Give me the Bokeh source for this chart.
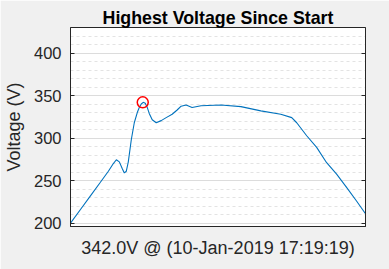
from bokeh.plotting import figure
from bokeh.models import FixedTicker, LinearAxis, Range1d
from bokeh.embed import file_html
from bokeh.resources import INLINE

# sample index (arbitrary time units) and voltage readings
sample = [0, 10, 20, 30, 38, 43, 46, 49, 52, 54, 56, 58, 61, 64, 67, 69, 71, 73,
          75, 77, 79, 82, 86, 91, 96, 102, 107, 111, 116, 122, 131, 151, 171, 191,
          211, 222, 227, 237, 247, 257, 267, 277, 287, 296]
voltage = [200, 216, 232, 248, 261, 270, 274.5, 272, 264, 259, 261, 272, 298, 318,
           330, 336, 340, 342, 341, 336, 329, 321.5, 318, 320.5, 324, 328, 333, 337.5,
           338.8, 336, 338, 338.8, 337, 332, 328, 324, 318, 302.7, 289, 271, 257.6,
           242, 226, 211]
peak_x = [72.5]
peak_v = [342.0]
y_ticks = [200, 250, 300, 350, 400]
y_minor = list(range(200, 431, 10))

title = "Highest Voltage Since Start"
xlabel = "342.0V @ (10-Jan-2019 17:19:19)"
ylabel = "Voltage (V)"

FONT = "Liberation Sans"
DARK = "#262626"

p = figure(width=389, height=269, output_backend="svg", toolbar_location=None,
           x_range=Range1d(0, 296), y_range=Range1d(196, 430),
           min_border_left=69, min_border_right=24, min_border_top=27,
           min_border_bottom=43, title=title)
p.background_fill_color = "white"
p.border_fill_color = "#f0f0f0"
p.outline_line_color = DARK
p.outline_line_width = 1

p.title.align = "center"
p.title.text_font = FONT
p.title.text_font_size = "17.8px"
p.title.text_font_style = "bold"
p.title.text_color = "black"
p.title.standoff = 0

ticker = FixedTicker(ticks=y_ticks, minor_ticks=y_minor)
yax = p.yaxis[0]
yax.ticker = ticker
yax.major_tick_in = 4
yax.major_tick_out = 0
yax.minor_tick_in = 0
yax.minor_tick_out = 0
yax.major_label_standoff = 9
yax.major_label_text_font = FONT
yax.major_label_text_font_size = "16.5px"
yax.major_label_text_color = DARK
yax.axis_line_color = DARK
yax.major_tick_line_color = DARK
yax.axis_label = ylabel
yax.axis_label_text_font = FONT
yax.axis_label_text_font_size = "18px"
yax.axis_label_text_font_style = "normal"
yax.axis_label_text_color = DARK
yax.axis_label_standoff = 7

xax = p.xaxis[0]
xax.ticker = FixedTicker(ticks=[])
xax.major_tick_in = 0
xax.major_tick_out = 0
xax.minor_tick_in = 0
xax.minor_tick_out = 0
xax.axis_line_color = DARK
xax.axis_label = xlabel
xax.axis_label_text_font = FONT
xax.axis_label_text_font_size = "18px"
xax.axis_label_text_font_style = "normal"
xax.axis_label_text_color = DARK
xax.axis_label_standoff = 11

rax = LinearAxis(ticker=FixedTicker(ticks=y_ticks))
rax.major_tick_in = 4
rax.major_tick_out = 0
rax.minor_tick_in = 0
rax.minor_tick_out = 0
rax.major_label_overrides = {t: "" for t in y_ticks}
rax.major_label_standoff = 0
rax.axis_line_color = DARK
rax.major_tick_line_color = DARK
p.add_layout(rax, "right")

p.xgrid.visible = False
p.ygrid.ticker = ticker
p.ygrid.grid_line_color = "#dcdcdc"
p.ygrid.grid_line_width = 1
p.ygrid.minor_grid_line_color = "#e3e3e3"
p.ygrid.minor_grid_line_dash = "3 3"
p.ygrid.minor_grid_line_width = 1

p.line(sample, voltage, line_color="#0072BD", line_width=1.1)
p.scatter(peak_x, peak_v, marker="circle", size=11, fill_color=None,
          line_color="#ff0000", line_width=1.5)

open("out.html", "w").write(file_html(p, INLINE))
